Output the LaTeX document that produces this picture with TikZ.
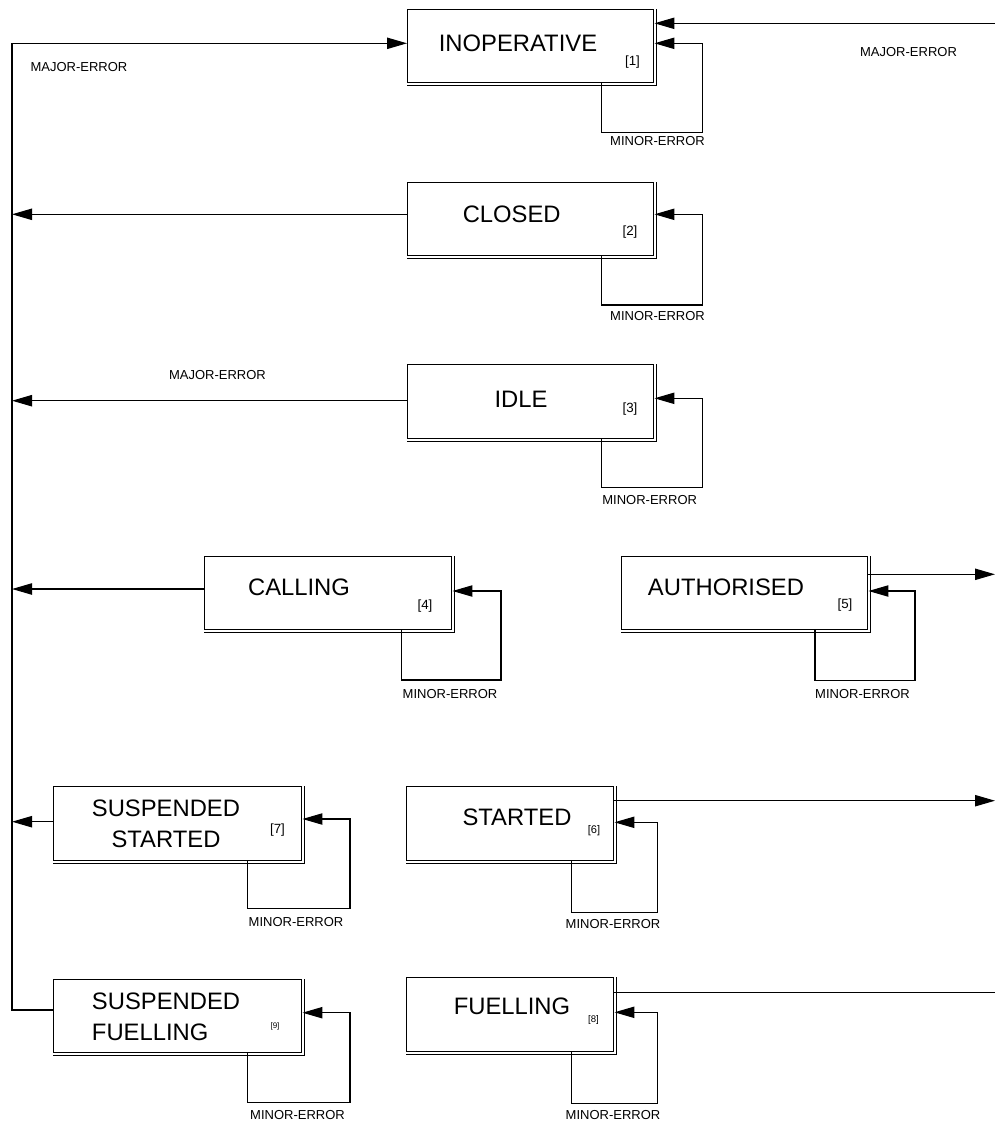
\documentclass[tikz,border=0pt]{standalone}
\usepackage{fontspec}
\setmainfont{Liberation Sans}
\usetikzlibrary{arrows.meta}
\newcommand\pxu{0.75pt}
\begin{document}
\begin{tikzpicture}[x=0.75pt,y=-0.75pt,
  conn/.style={line width=0.85pt},
  arr/.style={conn,-{Triangle[length=15pt,width=8.5pt]}},
  box/.style={draw,line width=1.1pt,rectangle,inner sep=0pt,anchor=north west},
  big/.style={inner sep=0pt,font=\fontsize{17.85}{22.9}\selectfont},
  tag/.style={inner sep=0pt,font=\fontsize{10}{12}\selectfont},
  lbl/.style={inner sep=0pt,font=\fontsize{9.75}{11}\selectfont}]
\useasboundingbox (0,0) rectangle (995,1122);

% boxes
\node[box,minimum width=246*\pxu,minimum height=73*\pxu] (inop) at (407,9) {};
\node[box,minimum width=246*\pxu,minimum height=73*\pxu] (closed) at (407,182) {};
\node[box,minimum width=246*\pxu,minimum height=74*\pxu] (idle) at (407,364) {};
\node[box,minimum width=247*\pxu,minimum height=73*\pxu] (calling) at (204,556) {};
\node[box,minimum width=246*\pxu,minimum height=73*\pxu] (auth) at (621,556) {};
\node[box,minimum width=248*\pxu,minimum height=74*\pxu] (suss) at (53,786) {};
\node[box,minimum width=207*\pxu,minimum height=74*\pxu] (started) at (406,786) {};
\node[box,minimum width=248*\pxu,minimum height=73*\pxu] (susf) at (53,979) {};
\node[box,minimum width=207*\pxu,minimum height=74*\pxu] (fuel) at (406,977) {};
\foreach \n in {inop,closed,idle,calling,auth,suss,started,susf,fuel}
  \draw[line width=0.7pt] ([xshift=1.3pt]\n.north east) -- ([xshift=1.3pt,yshift=-1.3pt]\n.south east) -- ([yshift=-1.3pt]\n.south west);

% box texts
\node[big] (t1) at (518,43) {INOPERATIVE};
\node[tag] (n1) at (632.5,62) {[1]};
\node[big] (t2) at (511.7,214) {CLOSED};
\node[tag] (n2) at (630,231.7) {[2]};
\node[big] (t3) at (521,399) {IDLE};
\node[tag] (n3) at (630,409.5) {[3]};
\node[big] (t4) at (299,587.5) {CALLING};
\node[tag] (n4) at (425,606) {[4]};
\node[big] (t5) at (726,587) {AUTHORISED};
\node[tag] (n5) at (845,605) {[5]};
\node[big] (t6) at (517,817.5) {STARTED};
\node[tag,font=\fontsize{8.3}{10}\selectfont] (n6) at (594,831) {[6]};
\node[big,align=center] (t7) at (166,824) {SUSPENDED\\STARTED};
\node[tag] (n7) at (277.5,830) {[7]};
\node[big] (t8) at (512,1006.7) {FUELLING};
\node[tag,font=\fontsize{7.2}{9}\selectfont] (n8) at (593.5,1020) {[8]};
\node[big,align=left,anchor=west] (t9) at (91.7,1017) {SUSPENDED\\FUELLING};
\node[tag,font=\fontsize{6}{8}\selectfont] (n9) at (275,1026.7) {[9]};

% bus on the left
\coordinate (b1) at (12,43.3);
\coordinate (b2) at (12,214.3);
\coordinate (b3) at (12,400.7);
\coordinate (b4) at (12,589);
\coordinate (b7) at (12,821.7);
\coordinate (b9) at (12,1010);
\draw[conn] (susf.west |- b9) -- (b9) -- (b1);
\draw[arr] (b1) -- (b1 -| inop.west);
\draw[arr] (b2 -| closed.west) -- (b2);
\draw[arr] (b3 -| idle.west) -- (b3);
\draw[arr] (b4 -| calling.west) -- (b4);
\draw[arr] (b7 -| suss.west) -- (b7);

% right side connectors
\coordinate (r1) at (995,23.3);
\coordinate (r5) at (995,574.3);
\coordinate (r6) at (995,800.7);
\coordinate (r8) at (995,992.3);
\draw[arr] (r1) -- (r1 -| inop.east);
\draw[arr] (r5 -| auth.east) -- (r5);
\draw[arr] (r6 -| started.east) -- (r6);
\draw[conn] (r8 -| fuel.east) -- (r8);

% self loops: (xa) top-right corner at arrow level, (xb) bottom-left corner
\coordinate (l1a) at (702.3,43.3);  \coordinate (l1b) at (601.7,132.7);
\coordinate (l2a) at (702.3,214.3); \coordinate (l2b) at (601.7,305);
\coordinate (l3a) at (702.3,398.3); \coordinate (l3b) at (601.7,487.3);
\coordinate (l4a) at (501,591);     \coordinate (l4b) at (401.7,680);
\coordinate (l5a) at (915,591);     \coordinate (l5b) at (815,680.7);
\coordinate (l7a) at (350,819);     \coordinate (l7b) at (247.3,908.3);
\coordinate (l6a) at (657.7,822.3); \coordinate (l6b) at (571.7,912.3);
\coordinate (l9a) at (350,1012.7);  \coordinate (l9b) at (247.3,1102.7);
\coordinate (l8a) at (657.7,1012.3);\coordinate (l8b) at (571.7,1103.3);
\draw[arr] (l1b |- inop.south) -- (l1b) -| (l1a) -- (l1a -| inop.east);
\draw[arr] (l2b |- closed.south) -- (l2b) -| (l2a) -- (l2a -| closed.east);
\draw[arr] (l3b |- idle.south) -- (l3b) -| (l3a) -- (l3a -| idle.east);
\draw[arr] (l4b |- calling.south) -- (l4b) -| (l4a) -- (l4a -| calling.east);
\draw[arr] (l5b |- auth.south) -- (l5b) -| (l5a) -- (l5a -| auth.east);
\draw[arr] (l7b |- suss.south) -- (l7b) -| (l7a) -- (l7a -| suss.east);
\draw[arr] (l6b |- started.south) -- (l6b) -| (l6a) -- (l6a -| started.east);
\draw[arr] (l9b |- susf.south) -- (l9b) -| (l9a) -- (l9a -| susf.east);
\draw[arr] (l8b |- fuel.south) -- (l8b) -| (l8a) -- (l8a -| fuel.east);

% labels
\node[lbl] (m1) at (657.5,140.7) {MINOR-ERROR};
\node[lbl] (m2) at (657.5,315.7) {MINOR-ERROR};
\node[lbl] (m3) at (649.7,500) {MINOR-ERROR};
\node[lbl] (m4) at (450,694) {MINOR-ERROR};
\node[lbl] (m5) at (862.5,694) {MINOR-ERROR};
\node[lbl] (m7) at (296,921.7) {MINOR-ERROR};
\node[lbl] (m6) at (613,924) {MINOR-ERROR};
\node[lbl] (m9) at (297.5,1115) {MINOR-ERROR};
\node[lbl] (m8) at (613,1115) {MINOR-ERROR};
\node[lbl] (j1) at (79,67) {MAJOR-ERROR};
\node[lbl] (j2) at (908.5,51.7) {MAJOR-ERROR};
\node[lbl] (j3) at (217.5,374.7) {MAJOR-ERROR};
\end{tikzpicture}
\end{document}
